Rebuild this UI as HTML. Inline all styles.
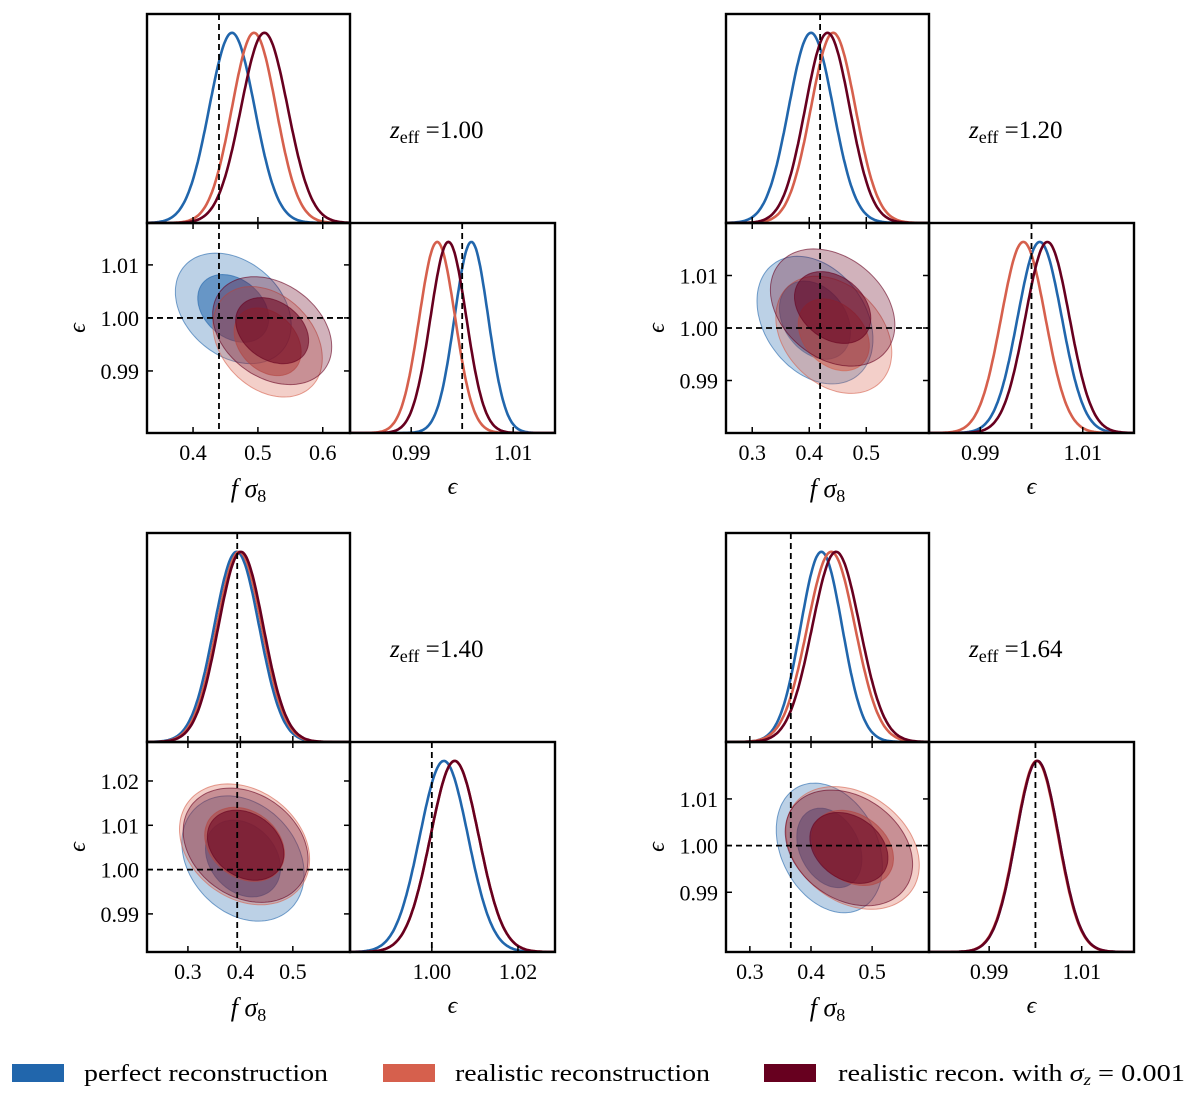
<!DOCTYPE html>
<html><head><meta charset="utf-8">
<style>
body{margin:0;background:#fff;}
svg text{font-family:"Liberation Serif","DejaVu Serif",serif;fill:#000;}
</style></head>
<body>
<svg id="fig" width="1200" height="1097" viewBox="0 0 1200 1097" xmlns="http://www.w3.org/2000/svg"></svg>
<script>
// ---- data ----
const zLabels = ['1.00','1.20','1.40','1.64'];
const seriesNames = ['perfect reconstruction','realistic reconstruction','realistic recon. with σz = 0.001'];
const fs8True = [0.44, 0.419, 0.394, 0.367];
const epsTrue = [1.0, 1.0, 1.0, 1.0];
// 1D marginals [panel][series: blue, orange, dark]
const fs8Mean1D = [[0.46,0.494,0.51],[0.403,0.442,0.432],[0.393,0.398,0.401],[0.417,0.433,0.441]];
const fs8Sd1D   = [[0.035,0.034,0.036],[0.039,0.039,0.039],[0.043,0.043,0.043],[0.034,0.039,0.039]];
const epsMean1D = [[1.0018,0.9951,0.9973],[1.0016,0.9984,1.0031],[1.0028,1.0053,1.0053],[1.0004,1.0003,1.0004]];
const epsSd1D   = [[0.0033,0.0035,0.0035],[0.0043,0.0043,0.0043],[0.0056,0.0056,0.0056],[0.0046,0.0046,0.0046]];
// 2D contours
const fs8Mean2D = [[0.462,0.515,0.522],[0.41,0.443,0.441],[0.405,0.408,0.41],[0.43,0.468,0.462]];
const epsMean2D = [[1.0018,0.9955,0.9976],[1.0015,0.9987,1.0039],[1.0025,1.0057,1.0055],[0.9995,0.9995,0.9995]];
const fs8Sd2D   = [[0.036,0.034,0.037],[0.041,0.041,0.044],[0.047,0.05,0.048],[0.035,0.044,0.042]];
const epsSd2D   = [[0.0042,0.0042,0.0041],[0.0049,0.0045,0.0045],[0.0057,0.0055,0.0052],[0.0056,0.0053,0.005]];
const rho2D     = [[-0.3,-0.3,-0.3],[-0.3,-0.3,-0.3],[-0.25,-0.25,-0.25],[-0.28,-0.28,-0.28]];
// ticks
const fs8Ticks = [[0.4,0.5,0.6],[0.3,0.4,0.5],[0.3,0.4,0.5],[0.3,0.4,0.5]];
const fs8TickLabels = [['0.4','0.5','0.6'],['0.3','0.4','0.5'],['0.3','0.4','0.5'],['0.3','0.4','0.5']];
const eps2DTicks = [[0.99,1.00,1.01],[0.99,1.00,1.01],[0.99,1.00,1.01,1.02],[0.99,1.00,1.01]];
const eps2DTickLabels = [['0.99','1.00','1.01'],['0.99','1.00','1.01'],['0.99','1.00','1.01','1.02'],['0.99','1.00','1.01']];
const eps1DTicks = [[0.99,1.01],[0.99,1.01],[1.00,1.02],[0.99,1.01]];
const eps1DTickLabels = [['0.99','1.01'],['0.99','1.01'],['1.00','1.02'],['0.99','1.01']];

// ---- layout (not data) ----
const origins = [[147,14],[726,14],[147,533],[726,533]];
const fs8Range = [[0.329,0.642],[0.254,0.61],[0.222,0.609],[0.261,0.593]];
const eps2DRange = [[0.9783,1.0179],[0.980,1.020],[0.9814,1.0288],[0.9772,1.0222]];
const eps1DRange = [[0.978,1.0182],[0.98,1.02],[0.981,1.0286],[0.977,1.0213]];
const colors = ['#2166ac','#d6604d','#67001f'];
const W1 = 203, W2 = 205, H1 = 209, H2 = 210;

const NS = 'http://www.w3.org/2000/svg';
const svg = document.getElementById('fig');
function mk(tag, attrs, parent){
  const e = document.createElementNS(NS, tag);
  for (const k in attrs) e.setAttribute(k, attrs[k]);
  (parent||svg).appendChild(e);
  return e;
}
function lin(d0,d1,r0,r1){ return v => r0 + (v-d0)/(d1-d0)*(r1-r0); }
function gauss(x,m,s){ return Math.exp(-0.5*((x-m)/s)**2); }

for (let p=0;p<4;p++){
  const [L,T] = origins[p];
  const g = mk('g',{});
  
  
  const top = {x:L, y:T, w:W1, h:H1};
  const mid = {x:L, y:T+H1, w:W1, h:H2};
  const rgt = {x:L+W1, y:T+H1, w:W2, h:H2};
  const xs = lin(fs8Range[p][0], fs8Range[p][1], L, L+W1);
  const ys = lin(eps2DRange[p][0], eps2DRange[p][1], mid.y+mid.h, mid.y);
  const xe = lin(eps1DRange[p][0], eps1DRange[p][1], rgt.x, rgt.x+rgt.w);

  const defs = mk('defs',{},g);
  [['t',top],['m',mid],['r',rgt]].forEach(([n,b])=>{
    const cp = mk('clipPath',{id:'c'+p+n},defs);
    mk('rect',{x:b.x,y:b.y,width:b.w,height:b.h},cp);
  });

  const gt = mk('g',{'clip-path':'url(#c'+p+'t)'},g);
  
  
  for (let s=0;s<3;s++){
    let d='';
    for (let i=0;i<=200;i++){
      const v = fs8Range[p][0] + (fs8Range[p][1]-fs8Range[p][0])*i/200;
      const px = xs(v), py = top.y+top.h - 0.91*top.h*gauss(v,fs8Mean1D[p][s],fs8Sd1D[p][s]);
      d += (i?'L':'M')+px.toFixed(1)+' '+py.toFixed(1);
    }
    const c = mk('path',{d:d,fill:'none',stroke:colors[s],'stroke-width':2.6},gt);
    
    
  }
  mk('line',{x1:xs(fs8True[p]),x2:xs(fs8True[p]),y1:top.y,y2:top.y+top.h,stroke:'#000','stroke-width':1.8,'stroke-dasharray':'6,4'},gt);

  const gm = mk('g',{'clip-path':'url(#c'+p+'m)'},g);
  
  
  for (let s=0;s<3;s++){
    [2.48,1.52].forEach((k,ki)=>{
      let d='';
      const r = rho2D[p][s];
      for (let i=0;i<=120;i++){
        const t = 2*Math.PI*i/120;
        const vx = fs8Mean2D[p][s] + k*fs8Sd2D[p][s]*Math.cos(t);
        const vy = epsMean2D[p][s] + k*epsSd2D[p][s]*(r*Math.cos(t)+Math.sqrt(1-r*r)*Math.sin(t));
        d += (i?'L':'M')+xs(vx).toFixed(1)+' '+ys(vy).toFixed(1);
      }
      const e = mk('path',{d:d+'Z',fill:colors[s],'fill-opacity':ki?0.55:0.3,stroke:colors[s],'stroke-opacity':0.6,'stroke-width':1},gm);
      
      
    });
  }
  mk('line',{x1:xs(fs8True[p]),x2:xs(fs8True[p]),y1:mid.y,y2:mid.y+mid.h,stroke:'#000','stroke-width':1.8,'stroke-dasharray':'6,4'},gm);
  mk('line',{x1:mid.x,x2:mid.x+mid.w,y1:ys(epsTrue[p]),y2:ys(epsTrue[p]),stroke:'#000','stroke-width':1.8,'stroke-dasharray':'6,4'},gm);

  const gr = mk('g',{'clip-path':'url(#c'+p+'r)'},g);
  
  
  for (let s=0;s<3;s++){
    let d='';
    for (let i=0;i<=200;i++){
      const v = eps1DRange[p][0] + (eps1DRange[p][1]-eps1DRange[p][0])*i/200;
      const px = xe(v), py = rgt.y+rgt.h - 0.91*rgt.h*gauss(v,epsMean1D[p][s],epsSd1D[p][s]);
      d += (i?'L':'M')+px.toFixed(1)+' '+py.toFixed(1);
    }
    const c = mk('path',{d:d,fill:'none',stroke:colors[s],'stroke-width':2.6},gr);
    
    
  }
  mk('line',{x1:xe(epsTrue[p]),x2:xe(epsTrue[p]),y1:rgt.y,y2:rgt.y+rgt.h,stroke:'#000','stroke-width':1.8,'stroke-dasharray':'6,4'},gr);

  [top,mid,rgt].forEach(b=>mk('rect',{x:b.x,y:b.y,width:b.w,height:b.h,fill:'none',stroke:'#000','stroke-width':2.4},g));

  fs8Ticks[p].forEach((v,i)=>{
    const x = xs(v);
    mk('line',{x1:x,x2:x,y1:top.y+top.h,y2:top.y+top.h-6,stroke:'#000','stroke-width':1.5},g);
    mk('line',{x1:x,x2:x,y1:mid.y+mid.h,y2:mid.y+mid.h-6,stroke:'#000','stroke-width':1.5},g);
    mk('line',{x1:x,x2:x,y1:mid.y,y2:mid.y+6,stroke:'#000','stroke-width':1.5},g);
    const t = mk('text',{x:x,y:mid.y+mid.h+27,'text-anchor':'middle','font-size':22},g);
    t.textContent = fs8TickLabels[p][i];
    
    
  });
  eps2DTicks[p].forEach((v,i)=>{
    const y = ys(v);
    mk('line',{x1:mid.x,x2:mid.x+6,y1:y,y2:y,stroke:'#000','stroke-width':1.5},g);
    mk('line',{x1:mid.x+mid.w,x2:mid.x+mid.w-6,y1:y,y2:y,stroke:'#000','stroke-width':1.5},g);
    const t = mk('text',{x:mid.x-8,y:y+8,'text-anchor':'end','font-size':22},g);
    t.textContent = eps2DTickLabels[p][i];
    
    
  });
  eps1DTicks[p].forEach((v,i)=>{
    const x = xe(v);
    mk('line',{x1:x,x2:x,y1:rgt.y+rgt.h,y2:rgt.y+rgt.h-6,stroke:'#000','stroke-width':1.5},g);
    const t = mk('text',{x:x,y:rgt.y+rgt.h+27,'text-anchor':'middle','font-size':22},g);
    t.textContent = eps1DTickLabels[p][i];
    
    
  });

  const xl = mk('text',{x:mid.x+mid.w/2,y:mid.y+mid.h+64,'text-anchor':'middle','font-size':26,'font-style':'italic'},g);
  xl.innerHTML = 'f σ<tspan font-size="18" dy="5" font-style="normal">8</tspan>';
  
  
  const el = mk('text',{x:rgt.x+rgt.w/2,y:rgt.y+rgt.h+61,'text-anchor':'middle','font-size':24,'font-style':'italic'},g);
  el.textContent = 'ϵ';
  
  
  const yl = mk('text',{x:0,y:0,'text-anchor':'middle','font-size':24,'font-style':'italic',transform:'translate('+(mid.x-62)+','+(mid.y+mid.h/2)+') rotate(-90)'},g);
  yl.textContent = 'ϵ';
  
  
  const zl = mk('text',{x:L+243,y:T+124,'font-size':25,'font-style':'italic'},g);
  zl.innerHTML = 'z<tspan font-size="18" dy="5" font-style="normal">eff</tspan><tspan dy="-5" font-style="normal"> =' + zLabels[p] + '</tspan>';
  
  
}

const legX = [12,383,764];
const legTx = [84,455,838];
const legW = [244,255,347];
for (let s=0;s<3;s++){
  const g = mk('g',{});
  
  
  mk('rect',{x:legX[s],y:1064,width:52,height:18,fill:colors[s]},g);
  const t = mk('text',{x:legTx[s],y:1081,'font-size':24,textLength:legW[s],lengthAdjust:'spacingAndGlyphs'},g);
  if (s<2) t.textContent = seriesNames[s];
  else t.innerHTML = 'realistic recon. with <tspan font-style="italic">σ</tspan><tspan font-size="16" dy="4" font-style="italic">z</tspan><tspan dy="-4"> = 0.001</tspan>';
}
</script>
</body></html>
